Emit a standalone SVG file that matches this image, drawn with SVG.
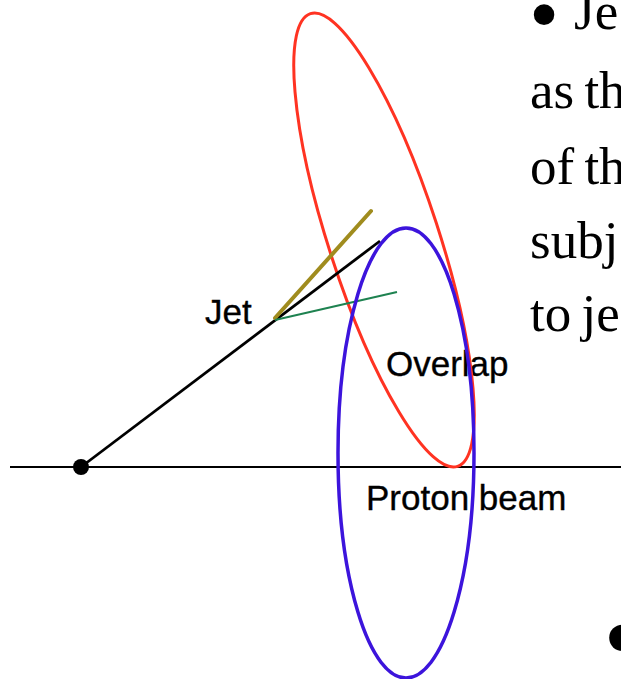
<svg xmlns="http://www.w3.org/2000/svg" width="621" height="679" viewBox="0 0 621 679">
  <style>
    .lbl { font-family: "Liberation Sans", Arial, sans-serif; font-size: 35px; fill: #000; stroke: #000; stroke-width: 0.35px; }
    .serif { font-family: "Liberation Serif", "Times New Roman", serif; font-size: 53px; fill: #000; word-spacing: -3px; }
    .ell { fill: none; }
  </style>
  <rect width="621" height="679" fill="#fff"/>
  <g id="labels">
    <text id="label-jet" class="lbl" x="205" y="324">Jet</text>
    <text id="label-overlap" class="lbl" x="386" y="376">Overlap</text>
    <text id="label-proton" class="lbl" x="366" y="510">Proton beam</text>
  </g>
  <g id="beam-axis">
    <line x1="10" y1="467" x2="621" y2="467" stroke="#000" stroke-width="2"/>
  </g>
  <g id="jet-cone">
    <ellipse class="ell" cx="384" cy="240" rx="55" ry="238" transform="rotate(-18 384 240)" stroke="#ff3322" stroke-width="3"/>
  </g>
  <g id="connectors">
    <line x1="81" y1="467" x2="380" y2="241" stroke="#000" stroke-width="2.8"/>
    <line x1="275" y1="318" x2="371" y2="211" stroke="#a08c1e" stroke-width="4" stroke-linecap="round"/>
    <line x1="275" y1="320" x2="397" y2="292" stroke="#1e8250" stroke-width="2"/>
  </g>
  <g id="proton-ellipse">
    <ellipse class="ell" cx="406" cy="453" rx="68" ry="225" stroke="#3c14dc" stroke-width="3.5"/>
  </g>
  <g id="origin">
    <circle cx="81" cy="467" r="8" fill="#000"/>
  </g>
  <g id="side-text">
    <text class="serif" x="529" y="43" style="font-size:86px">•</text>
    <text class="serif" x="574" y="29">Je</text>
    <text class="serif" x="530" y="108">as th</text>
    <text class="serif" x="530" y="184">of th</text>
    <text class="serif" x="530" y="258">subj</text>
    <text class="serif" x="530" y="331">to je</text>
    <text class="serif" x="603" y="674" style="font-size:110px">•</text>
  </g>
</svg>
